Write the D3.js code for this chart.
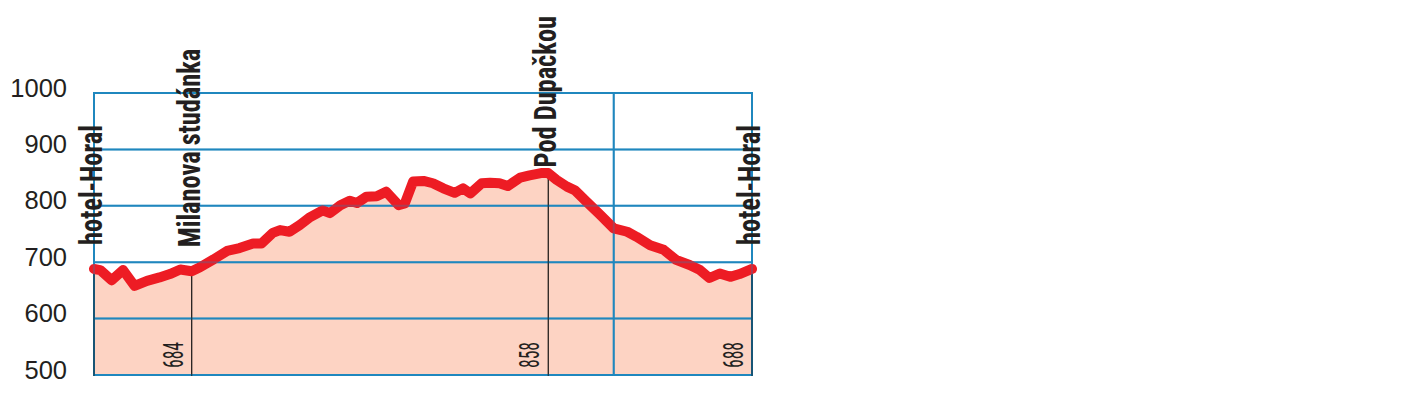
<!DOCTYPE html>
<html>
<head>
<meta charset="utf-8">
<script src="https://cdn.jsdelivr.net/npm/d3@7"></script>
<style>
  html, body { margin: 0; padding: 0; background: #ffffff; }
  svg { display: block; }
</style>
</head>
<body>
<svg id="chart" width="1401" height="399"></svg>
<script>
// ---- data ----
const distKm = [0.00, 0.06, 0.17, 0.28, 0.39, 0.51, 0.63, 0.73, 0.83, 0.94, 1.02, 1.15, 1.28, 1.40, 1.53, 1.61, 1.72, 1.79, 1.88, 1.98,
  2.08, 2.20, 2.27, 2.37, 2.46, 2.53, 2.62, 2.72, 2.81, 2.93, 2.99, 3.07, 3.17, 3.26, 3.36, 3.47, 3.55, 3.62, 3.73, 3.81,
  3.90, 3.98, 4.10, 4.19, 4.30, 4.37, 4.45, 4.55, 4.63, 4.74, 4.87, 5.00, 5.13, 5.22, 5.35, 5.48, 5.60, 5.73, 5.83, 5.92,
  6.02, 6.12, 6.21, 6.33];
const elevM = [688, 686, 668, 686, 658, 667, 673, 679, 687, 684, 691, 705, 720, 725, 733, 733, 752, 757, 754, 766,
  780, 792, 787, 801, 809, 805, 816, 817, 825, 801, 804, 843, 844, 840, 831, 823, 831, 822, 840, 841,
  840, 835, 850, 854, 858, 858, 846, 834, 827, 807, 784, 760, 754, 745, 730, 722, 704, 695, 686, 672,
  680, 674, 679, 688];
const waypointNames = ["hotel-Horal", "Milanova studánka", "Pod Dupačkou", "hotel-Horal"];
const waypointKm = [0.00, 0.94, 4.37, 6.33];
const waypointElev = [688, 684, 858, 688];
const yTicks = [500, 600, 700, 800, 900, 1000];
const xGridKm = [0, 5, 6.33];

// ---- layout ----
const svg = d3.select("#chart");
const x = d3.scaleLinear().domain([0, 6.33]).range([94, 752]);
const y = d3.scaleLinear().domain([500, 1000]).range([375, 93]);
const pts = distKm.map((d, i) => [d, elevM[i]]);

const gridColor = "#1f87be";
const textColor = "#231f20";

// area fill
svg.append("path")
  .datum(pts)
  .attr("fill", "#fdd3c3")
  .attr("d", d3.area().x(d => x(d[0])).y0(y(500)).y1(d => y(d[1])));

function drawGrid(g) {
  g.selectAll("line.h").data(yTicks).join("line")
    .attr("x1", x(0)).attr("x2", x(6.33))
    .attr("y1", d => y(d)).attr("y2", d => y(d))
    .attr("stroke", gridColor).attr("stroke-width", 2);
  g.selectAll("line.v").data(xGridKm).join("line")
    .attr("x1", d => x(d)).attr("x2", d => x(d))
    .attr("y1", y(1000) - 1).attr("y2", y(500) + 1)
    .attr("stroke", gridColor).attr("stroke-width", 2);
}
drawGrid(svg.append("g"));

// waypoint marker lines
svg.append("g").selectAll("line").data(waypointKm).join("line")
  .attr("x1", d => x(d)).attr("x2", d => x(d))
  .attr("y1", (d, i) => y(waypointElev[i])).attr("y2", y(500) + 1)
  .attr("stroke", "#111111").attr("stroke-width", 1.2);

// profile line
svg.append("path")
  .datum(pts)
  .attr("fill", "none")
  .attr("stroke", "#ed1c24")
  .attr("stroke-width", 10)
  .attr("stroke-linejoin", "round")
  .attr("stroke-linecap", "round")
  .attr("d", d3.line().x(d => x(d[0])).y(d => y(d[1])));

// faint grid overlay over the line
drawGrid(svg.append("g").attr("opacity", 0.3));

// y axis labels
svg.append("g").selectAll("text").data(yTicks).join("text")
  .attr("x", 67).attr("y", d => y(d) + 3.5)
  .attr("text-anchor", "end")
  .attr("font-family", "'Liberation Sans', Arial, sans-serif")
  .attr("font-size", 25.5)
  .attr("fill", textColor)
  .text(d => d);

// waypoint names (rotated)
const nameFont = "'Liberation Sans Narrow', 'Arial Narrow', 'Roboto Condensed', 'Liberation Sans', sans-serif";
const names = svg.append("g").selectAll("text").data(waypointNames).join("text")
  .attr("font-family", nameFont)
  .attr("font-weight", "bold")
  .attr("font-size", 32)
  .attr("fill", textColor)
  .text(d => d);
names.each(function (d, i) {
  const t = d3.select(this);
  const natural = this.getComputedTextLength();
  const len = natural * 0.825;
  t.attr("textLength", len).attr("lengthAdjust", "spacingAndGlyphs");
  const bottom = Math.max(y(waypointElev[i]) - 24, 16 + len);
  t.attr("transform", `translate(${x(waypointKm[i]) + 8},${bottom}) rotate(-90)`);
});

// elevation numbers (rotated) for intermediate and end waypoints
svg.append("g").selectAll("text").data(waypointKm.slice(1)).join("text")
  .attr("font-family", nameFont)
  .attr("font-size", 28)
  .attr("fill", textColor)
  .attr("textLength", 26)
  .attr("lengthAdjust", "spacingAndGlyphs")
  .attr("transform", d => `translate(${x(d) - 9},${y(500) - 7}) rotate(-90)`)
  .text((d, i) => waypointElev[i + 1]);
</script>
</body>
</html>
